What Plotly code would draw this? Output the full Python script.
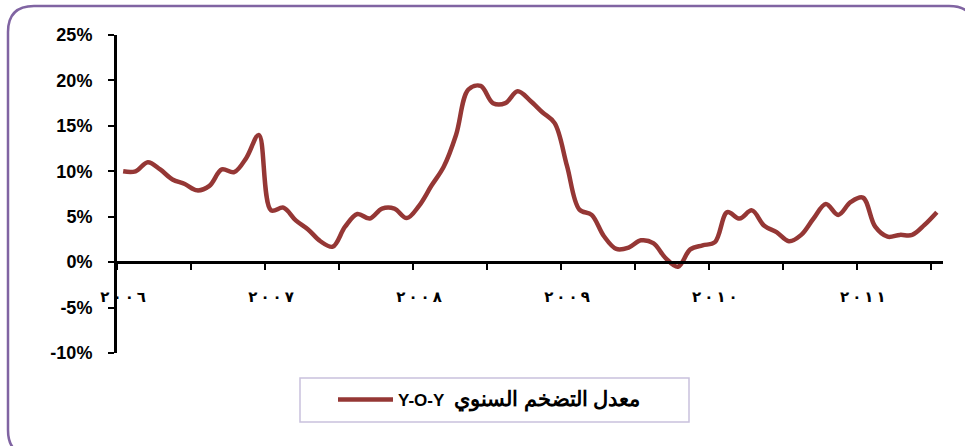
import plotly.graph_objects as go

# monthly Y-O-Y inflation, Jan 2006 .. Jul 2011
months = list(range(67))
inflation = [
    10.0, 10.0, 11.0, 10.2, 9.1, 8.6, 7.9, 8.4, 10.2, 9.9, 11.5, 14.0,   # 2006
    5.7, 6.0, 4.6, 3.6, 2.3, 1.7, 3.9, 5.3, 4.8, 5.9, 5.9, 4.85,         # 2007
    6.2, 8.4, 10.5, 14.0, 19.0, 19.4, 17.5, 17.5, 18.8, 17.8, 16.5, 15.3,  # 2008
    10.6, 5.8, 5.2, 2.85, 1.45, 1.6, 2.4, 2.1, 0.45, -0.5, 1.4, 1.85,    # 2009
    2.2, 5.5, 4.8, 5.7, 4.0, 3.3, 2.3, 3.0, 4.8, 6.4, 5.2, 6.6,          # 2010
    7.1, 3.9, 2.8, 3.0, 3.0, 4.1, 5.5,                                   # 2011
]
year_pos = [0, 12, 24, 36, 48, 60]
years = ['٢٠٠٦', '٢٠٠٧', '٢٠٠٨', '٢٠٠٩', '٢٠١٠', '٢٠١١']
# spaced out like the original, LRM keeps the digits in left-to-right order
year_labels = ['\u2009\u200e'.join(y) for y in years]
tick_marks = [-0.5 + 6 * k for k in range(12)]
y_ticks = [-10, -5, 0, 5, 10, 15, 20, 25]
y_labels = [f'{v}%' for v in y_ticks]
series_name = ('Y-O-Y\u00a0\u00a0<span style="font-size:21px">'
               'معدل التضخم السنوي</span>')

W, H = 965, 446
ML, MR, MT, MB = 117, 22, 35, 93
pw, ph = W - ML - MR, H - MT - MB

def px(x):
    return (x - ML) / pw

def py(y):
    return (H - MB - y) / ph

fig = go.Figure()
fig.add_trace(go.Scatter(
    x=months, y=inflation, mode='lines', name=series_name,
    line=dict(color='#953735', width=4.5, shape='spline', smoothing=1.0),
    showlegend=True, hoverinfo='skip'))

# rounded outer frame
x0, x1, y0, y1, r = 8, 975, 6, 456, 26
frame = (f"M {px(x0)},{py(y0 + r)} L {px(x0)},{py(y1 - r)} "
         f"Q {px(x0)},{py(y1)} {px(x0 + r)},{py(y1)} L {px(x1 - r)},{py(y1)} "
         f"Q {px(x1)},{py(y1)} {px(x1)},{py(y1 - r)} L {px(x1)},{py(y0 + r)} "
         f"Q {px(x1)},{py(y0)} {px(x1 - r)},{py(y0)} L {px(x0 + r)},{py(y0)} "
         f"Q {px(x0)},{py(y0)} {px(x0)},{py(y0 + r)} Z")

fig.update_layout(
    width=W, height=H,
    margin=dict(l=ML, r=MR, t=MT, b=MB),
    paper_bgcolor='white', plot_bgcolor='white',
    font=dict(family='Liberation Sans, Arial, sans-serif', color='black'),
    shapes=[
        dict(type='path', path=frame, xref='paper', yref='paper',
             line=dict(color='#8064A2', width=2.5), layer='below'),
        # legend box
        dict(type='rect', xref='paper', yref='paper',
             x0=px(300), x1=px(689), y0=py(378), y1=py(422),
             line=dict(color='#C9C1DD', width=1.5), layer='below'),
    ],
    xaxis=dict(
        range=[-0.5, 66.5], anchor='free', position=10 / 35,
        tickmode='array', tickvals=year_pos, ticktext=year_labels,
        ticks='', ticklabelstandoff=20,
        tickfont=dict(family='DejaVu Sans', size=15, color='black', weight='bold'),
        showline=True, linecolor='black', linewidth=3,
        showgrid=False, zeroline=False,
        minor=dict(tickmode='array', tickvals=tick_marks, ticks='outside',
                   ticklen=6, tickwidth=2, tickcolor='black', showgrid=False),
    ),
    yaxis=dict(
        range=[-10, 25], tickmode='array', tickvals=y_ticks, ticktext=y_labels,
        ticks='outside', ticklen=6, tickwidth=2, tickcolor='black',
        ticklabelstandoff=12,
        tickfont=dict(size=18, color='black', weight='bold'),
        showline=True, linecolor='black', linewidth=3,
        showgrid=False, zeroline=False,
    ),
    legend=dict(
        orientation='h', x=px(333), y=py(400), xanchor='left', yanchor='middle',
        borderwidth=0, bgcolor='rgba(0,0,0,0)',
        font=dict(size=17, color='black', weight='bold'),
        itemwidth=55,
    ),
)

fig.write_html('out.html', config={'displayModeBar': False},
               post_script="document.body.style.margin='0';")
